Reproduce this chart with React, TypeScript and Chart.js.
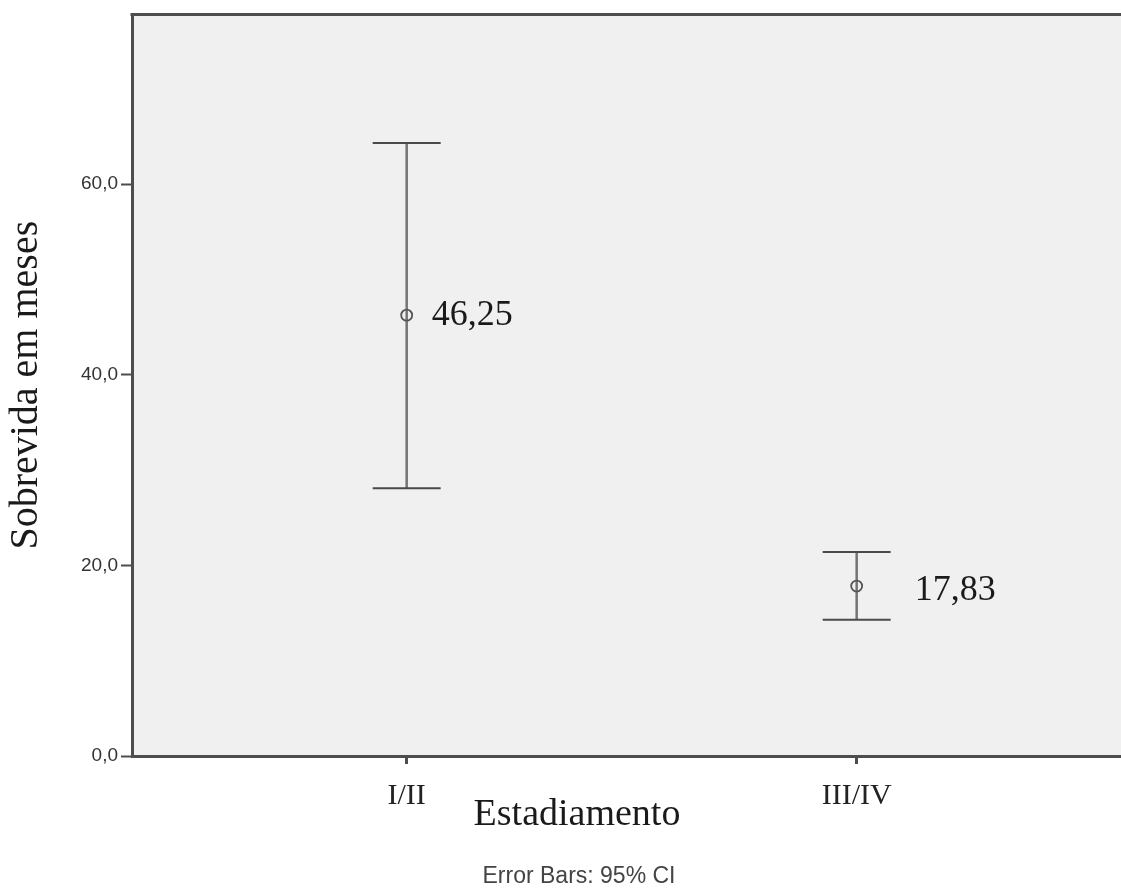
import React, { useEffect, useRef } from "react";
import { Chart, registerables } from "chart.js";

Chart.register(...registerables);

const categories = ["I/II", "III/IV"];
const means = [46.25, 17.83];
const ciLower = [28.1, 14.3];
const ciUpper = [64.3, 21.4];
const meanLabels = ["46,25", "17,83"];
const yTicks = [0, 20, 40, 60];
const xTitle = "Estadiamento";
const yTitle = "Sobrevida em meses";
const footnote = "Error Bars: 95% CI";

const SERIF = "'Liberation Serif', 'Times New Roman', serif";
const SANS = "'Liberation Sans', Arial, sans-serif";
const AXIS = "#4d4d4d";
const PLOT_BG = "#eff0ef";

export default function App() {
  const ref = useRef<HTMLCanvasElement | null>(null);

  useEffect(() => {
    if (!ref.current) return;

    const barDatasets = categories.map((c, i) => ({
      label: c + " CI",
      data: [
        { x: i + 1, y: ciLower[i] },
        { x: i + 1, y: ciUpper[i] },
      ],
      showLine: true,
      borderColor: "#737373",
      borderWidth: 2.5,
      pointRadius: 0,
      order: 3,
    }));

    const capDataset = {
      label: "caps",
      data: categories.flatMap((c, i) => [
        { x: i + 1, y: ciLower[i] },
        { x: i + 1, y: ciUpper[i] },
      ]),
      showLine: false,
      pointStyle: "line",
      pointRadius: 34,
      borderColor: "#4a4a4a",
      borderWidth: 2,
      order: 2,
    };

    const meanDataset = {
      label: "mean",
      data: categories.map((c, i) => ({ x: i + 1, y: means[i] })),
      showLine: false,
      pointStyle: "circle",
      pointRadius: 5.5,
      backgroundColor: "rgba(0,0,0,0)",
      borderColor: "#555555",
      borderWidth: 1.8,
      order: 1,
    };

    const framePlugin = {
      id: "frame",
      beforeDraw(chart: any) {
        const { ctx, chartArea: a } = chart;
        ctx.save();
        ctx.fillStyle = PLOT_BG;
        ctx.fillRect(a.left, a.top, a.right - a.left, a.bottom - a.top);
        ctx.restore();
      },
      afterDraw(chart: any) {
        const { ctx, chartArea: a } = chart;
        ctx.save();
        ctx.strokeStyle = AXIS;
        ctx.lineWidth = 3;
        ctx.beginPath();
        ctx.moveTo(a.left - 1.5, a.top);
        ctx.lineTo(a.right, a.top);
        ctx.stroke();

        const xs = chart.scales.x;
        const ys = chart.scales.y;
        const offsets = [25, 58];
        ctx.fillStyle = "#1a1a1a";
        ctx.font = "36px " + SERIF;
        ctx.textAlign = "left";
        ctx.textBaseline = "middle";
        meanLabels.forEach((t, i) => {
          const px = xs.getPixelForValue(i + 1) + offsets[i];
          const py = ys.getPixelForValue(means[i]) + (i === 1 ? 5 : 0);
          ctx.fillText(t, px, py);
        });

        ctx.textAlign = "center";
        ctx.textBaseline = "alphabetic";
        ctx.font = "38px " + SERIF;
        ctx.fillStyle = "#1a1a1a";
        ctx.fillText(xTitle, 577, 825);

        ctx.font = "23px " + SANS;
        ctx.fillStyle = "#444444";
        ctx.fillText(footnote, 579, 883);
        ctx.restore();
      },
    };

    const chart = new Chart(ref.current, {
      type: "scatter",
      data: { datasets: [meanDataset, capDataset, ...barDatasets] as any },
      options: {
        animation: false,
        responsive: true,
        maintainAspectRatio: false,
        layout: { autoPadding: false, padding: { top: 13, left: 0, right: 0, bottom: 0 } },
        plugins: {
          legend: { display: false },
          tooltip: { enabled: false },
        },
        scales: {
          x: {
            type: "linear",
            min: 0.3896,
            max: 2.5874,
            afterBuildTicks(scale: any) {
              scale.ticks = categories.map((c, i) => ({ value: i + 1 }));
            },
            afterFit(scale: any) {
              scale.height = 134;
            },
            ticks: {
              autoSkip: false,
              maxRotation: 0,
              padding: 14,
              color: "#222222",
              font: { family: SERIF, size: 30 },
              callback: (v: any) => categories[Math.round(Number(v)) - 1] ?? "",
            },
            grid: {
              drawOnChartArea: false,
              drawTicks: true,
              tickLength: 8,
              tickWidth: 3,
              tickColor: AXIS,
            },
            border: { display: true, color: AXIS, width: 3 },
          },
          y: {
            type: "linear",
            min: 0,
            max: 77.8,
            afterBuildTicks(scale: any) {
              scale.ticks = yTicks.map((v) => ({ value: v }));
            },
            afterFit(scale: any) {
              scale.width = 132;
            },
            ticks: {
              padding: 3,
              color: "#333333",
              font: { family: SANS, size: 19 },
              callback: (v: any) => Number(v).toFixed(1).replace(".", ","),
            },
            grid: {
              drawOnChartArea: false,
              drawTicks: true,
              tickLength: 11,
              tickWidth: 2,
              tickColor: AXIS,
            },
            border: { display: true, color: AXIS, width: 3 },
            title: {
              display: true,
              text: yTitle,
              color: "#1a1a1a",
              font: { family: SERIF, size: 40 },
              padding: { top: 2, bottom: 0 },
            },
          },
        },
      },
      plugins: [framePlugin],
    });

    return () => chart.destroy();
  }, []);

  return (
    <div style={{ position: "fixed", left: 0, top: 0, width: 1121, height: 890, background: "#fff" }}>
      <canvas ref={ref} />
    </div>
  );
}
